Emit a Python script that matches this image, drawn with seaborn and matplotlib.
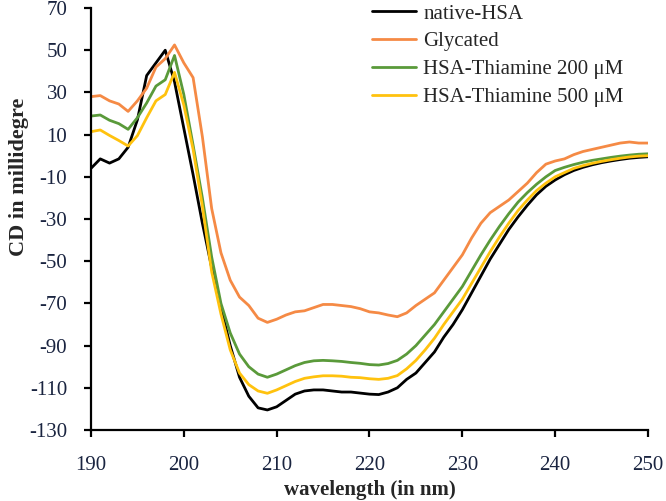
import numpy as np
import pandas as pd
import matplotlib
matplotlib.use('Agg')
import matplotlib.pyplot as plt
import seaborn as sns

# wavelength grid (nm) and CD signal (millidegree)
wavelength = list(range(190, 251))

native_hsa = [-6, -1.5, -3.5, -1.5, 4, 17, 38, 44, 50, 35,
              13, -9, -32, -53, -72, -90, -105, -114, -119.5, -120.5,
              -119, -116, -113, -111.5, -111, -111, -111.5, -112, -112, -112.5,
              -113, -113.2, -112, -110, -106, -103, -98, -93, -86, -80,
              -73, -65, -57, -49, -42, -35, -29, -23.5, -18.5, -14.5,
              -11.5, -9, -7, -5.5, -4.3, -3.3, -2.5, -1.8, -1.2, -0.8, -0.5]

glycated = [28, 28.5, 26, 24.5, 21, 26, 32, 42, 46, 52.5,
            44, 37, 9, -25, -46, -59, -67, -71, -77, -79,
            -77.5, -75.5, -74, -73.5, -72, -70.5, -70.5, -71, -71.5, -72.5,
            -74, -74.5, -75.5, -76.3, -74.5, -71, -68, -65, -59, -53,
            -47, -39, -32, -27, -24, -21, -17, -13, -8, -4,
            -2.5, -1.5, 0.5, 2, 3, 4, 5, 6, 6.5, 6, 6]

thiamine_200 = [18.8, 19.3, 16.8, 15.2, 12.5, 18, 25, 33, 36, 47.5,
                29, 5, -20, -48, -70, -84, -94, -100, -103.5, -105,
                -103.5, -101.5, -99.5, -98, -97.2, -97, -97.2, -97.5, -98, -98.4,
                -99, -99.2, -98.5, -97, -94, -90, -85, -80, -74, -68,
                -62, -54.5, -47, -40, -33.5, -27.5, -22, -17.5, -13.5, -10,
                -7, -5.5, -4.2, -3.1, -2.2, -1.5, -0.8, -0.2, 0.3, 0.7, 0.9]

thiamine_500 = [11.4, 12.2, 9.6, 7.2, 4.6, 9.5, 18, 26, 29, 39.5,
                24, 3, -24, -55, -75, -92, -103, -108.5, -111.5, -112.6,
                -111, -109, -107, -105.5, -104.8, -104.3, -104.3, -104.5, -105, -105.2,
                -105.7, -106, -105.5, -104.2, -101, -97, -92, -86.5, -80, -74,
                -68, -60.5, -53, -45.5, -38.5, -32, -26, -21, -16.5, -13,
                -10, -8, -6, -4.7, -3.6, -2.7, -1.9, -1.2, -0.6, -0.2, 0]

labels = ['native-HSA', 'Glycated', 'HSA-Thiamine 200 \u03bcM', 'HSA-Thiamine 500 \u03bcM']
colors = ['#000000', '#F58A45', '#5A9A3A', '#FFC20E']

frames = []
for lab, vals in zip(labels, [native_hsa, glycated, thiamine_200, thiamine_500]):
    frames.append(pd.DataFrame({'wavelength': wavelength, 'cd': vals, 'sample': lab}))
df = pd.concat(frames, ignore_index=True)

sns.set_style('ticks')
plt.rcParams['font.family'] = ['Liberation Serif', 'DejaVu Serif']
plt.rcParams['axes.unicode_minus'] = False

fig = plt.figure(figsize=(6.66, 5.01), dpi=100)
ax = fig.add_axes([0.1366, 0.1417, 0.8364, 0.8423])

sns.lineplot(data=df, x='wavelength', y='cd', hue='sample', hue_order=labels,
             palette=dict(zip(labels, colors)), linewidth=2.0, ax=ax)

ax.set_xlim(190, 250)
ax.set_ylim(-130, 70)
ax.set_xticks(range(190, 251, 10))
ax.set_yticks(range(-130, 71, 20))
tick_col = '#1a2440'
ax.tick_params(axis='both', labelsize=15, colors='black', labelcolor=tick_col,
               direction='out', length=5, width=1.6)
ax.tick_params(axis='x', pad=14)
ax.tick_params(axis='y', pad=12)
for s in ['top', 'right']:
    ax.spines[s].set_visible(False)
for s in ['left', 'bottom']:
    ax.spines[s].set_linewidth(1.6)
    ax.spines[s].set_color('black')

ax.set_xlabel('wavelength (in nm)', fontsize=15, fontweight='bold')
ax.set_ylabel('CD in millidegre', fontsize=16, fontweight='bold')
ax.xaxis.set_label_coords(0.5, -0.118)
ax.yaxis.set_label_coords(-0.112, 0.6)

ax.legend(loc='upper left', bbox_to_anchor=(0.54, 1.017), bbox_transform=fig.transFigure,
          frameon=False, fontsize=15, handlelength=2.1, handletextpad=0.35,
          labelspacing=0.4, borderpad=0.1)

fig.savefig('out.png', dpi=100)
